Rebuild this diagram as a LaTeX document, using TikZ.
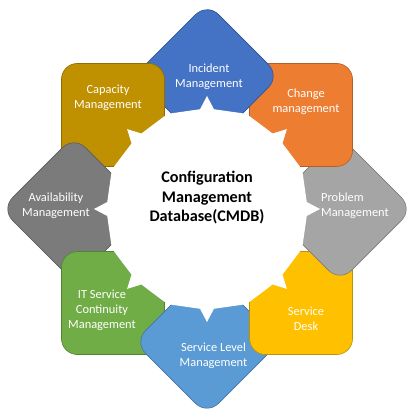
\documentclass[tikz,border=0pt]{standalone}
\usepackage{fontspec}
\setmainfont{Carlito}
\definecolor{incblue}{HTML}{4472C4}
\definecolor{chgorange}{HTML}{ED7D31}
\definecolor{probgrey}{HTML}{A5A5A5}
\definecolor{deskgold}{HTML}{FFC000}
\definecolor{slblue}{HTML}{5B9BD5}
\definecolor{itgreen}{HTML}{70AD47}
\definecolor{availgrey}{HTML}{7B7B7B}
\definecolor{capgold}{HTML}{BF9000}

\begin{document}
\begin{tikzpicture}[x = 1pt, y = 1pt,
                        petal/.style = {rectangle, rounded corners = 16pt, minimum size = 103pt, inner sep = 0pt,
                                        draw = #1!75!black, fill = #1, line width = 0.6pt},
                        tag/.style = {text = white, align = center, inner sep = 0pt,
                                      font = \fontsize{12.4}{15}\selectfont},
                        title/.style = {text = black, align = center, inner sep = 0pt,
                                        font = \bfseries\fontsize{16.2}{19.5}\selectfont}]
      \useasboundingbox (-207, -208) rectangle (209, 209);
      % petals, each one lying over its clockwise neighbour
      \node [petal = incblue, rotate = 45] (inc) at (90:133){};
      \node [petal = capgold, rotate = 90] (cap) at (135:133){};
      \node [petal = availgrey, rotate = 135] (avail) at (180:133){};
      \node [petal = itgreen, rotate = 180] (itsc) at (225:133){};
      \node [petal = slblue, rotate = 225] (slm) at (270:133){};
      \node [petal = deskgold, rotate = 270] (desk) at (315:133){};
      \node [petal = probgrey, rotate = 315] (prob) at (0:133){};
      \node [petal = chgorange, rotate = 0] (chg) at (45:133){};
      \begin{scope}
        \clip (0, 0) rectangle (209, 209);
        \node [petal = incblue, rotate = 45] (inc2) at (90:133){};
      \end{scope}
      % white hub with its spikes
      \fill [white] (-22.5:103) \foreach \a in {0, 45, ..., 315} {
          -- (\a - 4:100) -- (\a:113) -- (\a + 4:100) -- (\a + 22.5:103)} -- cycle;
      \node [title] (cmdb) at (0, 11){Configuration\\Management\\Database(CMDB)};
      \node [tag] (tinc) at (2, 132.5){Incident\\Management};
      \node [tag] (tchg) at (99, 107.5){Change\\management};
      \node [tag, anchor = west, align = left] (tprob) at (114, 3.5){Problem\\Management};
      \node [tag] (tdesk) at (99, -109.5){Service\\Desk};
      \node [tag] (tslm) at (6.5, -146.5){Service Level\\Management};
      \node [tag] (titsc) at (-105, -101){IT Service\\Continuity\\Management};
      \node [tag] (tavail) at (-151, 3.7){Availability\\Management};
      \node [tag] (tcap) at (-99, 111.5){Capacity\\Management};
    \end{tikzpicture}
\end{document}
